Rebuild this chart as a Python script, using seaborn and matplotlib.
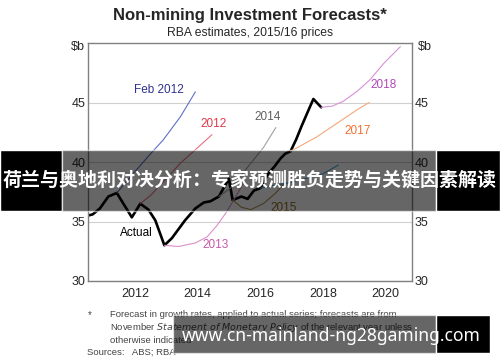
import matplotlib
matplotlib.use("Agg")
import matplotlib.pyplot as plt
import matplotlib.patches as mpatches
import seaborn as sns
import pandas as pd
import numpy as np

# actual non-mining investment ($b)
actual_years = [2011.0, 2011.15, 2011.38, 2011.65, 2011.92, 2012.4, 2012.67, 2012.93,
                2013.15, 2013.44, 2013.68, 2014.1, 2014.43, 2014.7, 2014.91, 2015.18,
                2015.5, 2015.62, 2015.9, 2016.1, 2016.3, 2016.5, 2016.75, 2016.95,
                2017.15, 2017.3, 2017.47, 2017.65, 2017.82, 2018.0, 2018.2, 2018.45]
actual_values = [35.5, 35.6, 36.1, 37.1, 37.4, 35.35, 36.5, 36.0,
                 35.1, 33.0, 33.6, 35.1, 36.1, 36.6, 36.7, 37.1,
                 38.6, 36.8, 37.1, 36.9, 37.6, 37.8, 39.0, 39.6,
                 40.3, 40.7, 40.9, 41.9, 43.0, 44.1, 45.3, 44.6]

# forecasts
feb2012_years = [2011.92, 2012.5, 2013.0, 2013.4, 2013.95, 2014.43]
feb2012_values = [37.4, 39.2, 40.7, 41.85, 43.8, 45.9]
f2012_years = [2012.67, 2013.0, 2013.5, 2013.95, 2014.5, 2014.96]
f2012_values = [36.5, 37.2, 38.6, 39.9, 41.2, 42.3]
f2013_years = [2013.44, 2013.9, 2014.43, 2014.8, 2015.1, 2015.4, 2015.7, 2016.0]
f2013_values = [33.0, 32.9, 33.2, 33.7, 34.6, 35.7, 37.0, 38.4]
f2014_years = [2015.18, 2015.6, 2016.2, 2016.6, 2017.0]
f2014_values = [37.1, 37.9, 39.9, 41.2, 42.9]
f2015_years = [2015.62, 2015.9, 2016.2, 2016.6, 2017.0, 2017.3]
f2015_values = [36.8, 36.2, 36.0, 36.5, 37.4, 38.3]
f2016_years = [2016.5, 2017.5, 2018.5, 2019.0]
f2016_values = [37.8, 38.3, 39.0, 39.75]
f2017_years = [2017.47, 2018.3, 2018.95, 2019.6, 2019.98]
f2017_values = [40.9, 42.1, 43.25, 44.4, 45.0]
f2018_years = [2018.45, 2018.8, 2019.15, 2019.6, 2020.0, 2020.45, 2020.98]
f2018_values = [44.6, 44.7, 45.1, 45.95, 46.9, 48.3, 49.7]

series = {
    "Actual": (actual_years, actual_values),
    "Feb 2012": (feb2012_years, feb2012_values),
    "2012": (f2012_years, f2012_values),
    "2013": (f2013_years, f2013_values),
    "2014": (f2014_years, f2014_values),
    "2015": (f2015_years, f2015_values),
    "2016": (f2016_years, f2016_values),
    "2017": (f2017_years, f2017_values),
    "2018": (f2018_years, f2018_values),
}
rows = []
for name, (xs, ys) in series.items():
    for x, y in zip(xs, ys):
        rows.append({"year": x, "value": y, "series": name})
df = pd.DataFrame(rows)

line_colors = {"Actual": "#000000", "Feb 2012": "#6070c8", "2012": "#e87080",
               "2013": "#dc90c8", "2014": "#a0a0a0", "2015": "#b09050",
               "2016": "#50a8d8", "2017": "#f4a878", "2018": "#d890d8"}
text_colors = {"Actual": "#000000", "Feb 2012": "#303090", "2012": "#e03848",
               "2013": "#c858a8", "2014": "#606060", "2015": "#8a6a20",
               "2017": "#f07030", "2018": "#b048b8"}
label_pos = {"Feb 2012": (2013.27, 46.05), "2012": (2015.02, 43.2),
             "2014": (2016.75, 43.8), "2018": (2020.45, 46.5),
             "2017": (2019.62, 42.6), "2015": (2017.26, 36.1),
             "Actual": (2012.56, 34.0), "2013": (2015.09, 33.0)}

sns.set_style("white")
plt.rcParams["font.family"] = ["Liberation Sans", "DejaVu Sans"]

fig = plt.figure(figsize=(5, 3.62), dpi=100)
ax = fig.add_axes([0.176, 0.2238, 0.648, 0.6572])

for name in series:
    sub = df[df["series"] == name]
    sns.lineplot(data=sub, x="year", y="value", ax=ax, color=line_colors[name],
                 linewidth=1.9 if name == "Actual" else 0.8,
                 estimator=None, sort=False, legend=False)

for name, (x, y) in label_pos.items():
    ax.text(x, y, name, color=text_colors[name], fontsize=8.5,
            ha="center", va="center")

ax.set_xlim(2011, 2021.35)
ax.set_ylim(30, 50)
ax.set_yticks([30, 35, 40, 45])
ax.yaxis.grid(True, color="#d0d0d0", linewidth=0.8)
ax.set_axisbelow(True)
ax.set_xlabel("")
ax.set_ylabel("")
ax.set_xticks(np.arange(2012, 2022))
ax.set_xticklabels([])
ax.set_xticks([2012.5, 2014.5, 2016.5, 2018.5, 2020.5], minor=True)
ax.set_xticklabels(["2012", "2014", "2016", "2018", "2020"], minor=True, fontsize=9)
ax.tick_params(axis="x", which="major", direction="in", length=3, color="#555555")
ax.tick_params(axis="x", which="minor", length=0, pad=5)
ax.tick_params(axis="y", length=0, pad=2, labelsize=9, labelright=True)
for s in ax.spines.values():
    s.set_color("#808080")
    s.set_linewidth(1.0)

fig.text(0.155, 0.87, "$b", fontsize=9, ha="center", va="center")
fig.text(0.85, 0.87, "$b", fontsize=9, ha="center", va="center")

fig.text(0.5, 0.958, "Non-mining Investment Forecasts*", fontsize=12,
         fontweight="bold", ha="center", va="center")
fig.text(0.5, 0.909, "RBA estimates, 2015/16 prices", fontsize=8.7,
         ha="center", va="center")

note_color = "#444444"
fig.text(0.176, 0.13, "*", fontsize=7, color=note_color, va="center")
fig.text(0.22, 0.13, "Forecast in growth rates, applied to actual series; forecasts are from",
         fontsize=6.8, color=note_color, va="center")
fig.text(0.22, 0.094, "November $\\it{Statement\\ of\\ Monetary\\ Policy}$ of the relevant year unless",
         fontsize=6.8, color=note_color, va="center")
fig.text(0.22, 0.06, "otherwise indicated", fontsize=6.8, color=note_color, va="center")
fig.text(0.174, 0.027, "Sources:   ABS; RBA", fontsize=6.8, color=note_color, va="center")

# overlay banners
def px_rect(x0, y0, x1, y1, color, alpha):
    fig.patches.append(mpatches.Rectangle((x0 / 500, 1 - y1 / 362), (x1 - x0) / 500,
                                          (y1 - y0) / 362, transform=fig.transFigure,
                                          facecolor=color, alpha=alpha, zorder=10))

px_rect(0, 150, 62, 211, "#000000", 1.0)
px_rect(62, 150, 436, 211, "#000000", 0.6)
px_rect(436, 150, 500, 211, "#000000", 1.0)
fig.text(0.5, 1 - 181 / 362, "荷兰与奥地利对决分析：专家预测胜负走势与关键因素解读",
         color="white", fontsize=13.7, fontweight="bold", ha="center", va="center",
         family=["Noto Sans CJK SC", "DejaVu Sans"], zorder=11)

px_rect(173, 315, 436, 353, "#000000", 0.6)
px_rect(436, 315, 490, 353, "#000000", 1.0)
fig.text(331 / 500, 1 - 336 / 362, "www.cn-mainland-ng28gaming.com", color="white",
         fontsize=12.6, fontweight="bold", ha="center", va="center",
         family=["Noto Sans", "DejaVu Sans"], zorder=11)

fig.savefig("out.png", dpi=100)
